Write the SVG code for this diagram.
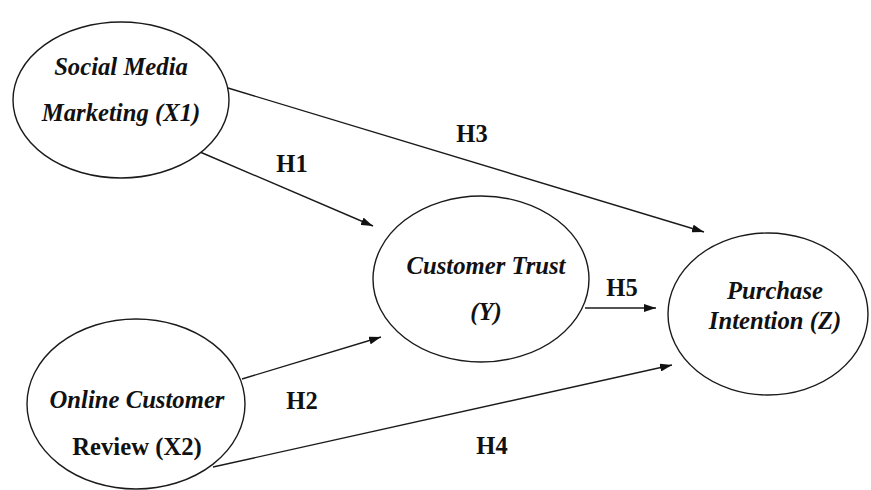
<svg xmlns="http://www.w3.org/2000/svg" width="871" height="490" viewBox="0 0 871 490">
  <style>
    .node ellipse { fill: #ffffff; stroke: #1a1a1a; stroke-width: 1.4; }
    .lbl { font-family: "Liberation Serif", "Times New Roman", serif; font-size: 24.7px; font-weight: bold; fill: #111111; text-anchor: middle; }
    .it { font-style: italic; }
    .edges line { stroke: #1a1a1a; stroke-width: 1.4; }
    .hyp { font-family: "Liberation Serif", "Times New Roman", serif; font-size: 24.5px; font-weight: bold; fill: #111111; text-anchor: middle; }
  </style>
  <defs>
    <marker id="arrow" viewBox="0 0 12 8" refX="12" refY="4" markerWidth="12" markerHeight="8" markerUnits="userSpaceOnUse" orient="auto">
      <path d="M0,0 L12,4 L0,8 z" fill="#111111"/>
    </marker>
  </defs>
  <rect width="871" height="490" fill="#ffffff"/>

  <g class="edges">
    <line x1="228" y1="88" x2="704" y2="232" marker-end="url(#arrow)"/>
    <line x1="200" y1="152" x2="373" y2="226" marker-end="url(#arrow)"/>
    <line x1="242" y1="379" x2="381" y2="337" marker-end="url(#arrow)"/>
    <line x1="213" y1="467" x2="672" y2="365" marker-end="url(#arrow)"/>
    <line x1="585" y1="308" x2="656" y2="308" marker-end="url(#arrow)"/>
  </g>

  <g id="social-media-marketing" class="node">
    <ellipse cx="121" cy="100" rx="108" ry="78"/>
    <text class="lbl it" x="121" y="75">Social Media</text>
    <text class="lbl it" x="121" y="121">Marketing (X1)</text>
  </g>

  <g id="online-customer-review" class="node">
    <ellipse cx="136" cy="404" rx="109" ry="85"/>
    <text class="lbl it" x="137" y="408">Online Customer</text>
    <text class="lbl" x="137" y="455">Review (X2)</text>
  </g>

  <g id="customer-trust" class="node">
    <ellipse cx="481" cy="279" rx="108" ry="83"/>
    <text class="lbl it" x="486" y="274">Customer Trust</text>
    <text class="lbl it" x="486" y="320">(Y)</text>
  </g>

  <g id="purchase-intention" class="node">
    <ellipse cx="768" cy="314" rx="100" ry="81"/>
    <text class="lbl it" x="775" y="299">Purchase</text>
    <text class="lbl it" x="775" y="329">Intention (Z)</text>
  </g>

  <g id="hypotheses">
    <text class="hyp" x="292" y="172">H1</text>
    <text class="hyp" x="302" y="409">H2</text>
    <text class="hyp" x="472" y="142">H3</text>
    <text class="hyp" x="492" y="454">H4</text>
    <text class="hyp" x="622" y="296">H5</text>
  </g>
</svg>
